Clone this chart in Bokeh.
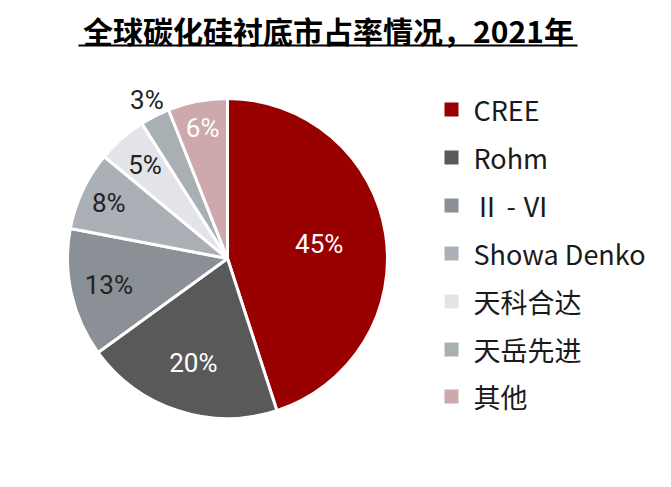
import math

from bokeh.core.properties import value
from bokeh.embed import file_html
from bokeh.models import ColumnDataSource, Range1d
from bokeh.plotting import figure
from bokeh.resources import INLINE

# Data
companies = ["CREE", "Rohm", "Ⅱ - Ⅵ", "Showa Denko", "天科合达", "天岳先进", "其他"]
shares = [45, 20, 13, 8, 5, 3, 6]
colors = ["#990000", "#595959", "#8a9096", "#aab0b5", "#e3e4e8", "#a9b0b3", "#cda9ab"]
label_colors = ["white", "white", "#222222", "#222222", "#222222", "#222222", "white"]
label_r = [0.58, 0.69, 0.76, 0.82, 0.78, 1.11, 0.83]  # label distance, fraction of radius

W, H = 655, 471
cx, cy, R = 227, H - 258, 160

# Wedge angles, clockwise from 12 o'clock
total = sum(shares)
starts, ends, lx, ly, texts = [], [], [], [], []
cum = 0
for s, r in zip(shares, label_r):
    a0 = math.pi / 2 - 2 * math.pi * cum / total
    a1 = math.pi / 2 - 2 * math.pi * (cum + s) / total
    mid = (a0 + a1) / 2
    starts.append(a0)
    ends.append(a1)
    lx.append(cx + R * r * math.cos(mid))
    ly.append(cy + R * r * math.sin(mid))
    texts.append(f"{s}%")
    cum += s

src = ColumnDataSource(dict(
    start=starts, end=ends, color=colors,
    lx=lx, ly=ly, text=texts, tcolor=label_colors,
))

p = figure(width=W, height=H, output_backend="svg", toolbar_location=None,
           x_range=Range1d(0, W), y_range=Range1d(0, H), min_border=0)
p.axis.visible = False
p.grid.grid_line_color = None
p.outline_line_color = None
p.background_fill_color = "white"

# Pie
p.wedge(x=cx, y=cy, radius=R, start_angle="start", end_angle="end",
        direction="clock", fill_color="color", line_color="white",
        line_width=3, source=src)

p.text(x="lx", y="ly", text="text", text_color="tcolor", source=src,
       text_font=value("Roboto"), text_font_size="26px",
       text_align="center", text_baseline="middle")

# Title with underline
p.text(x=[328], y=[H - 29], text=["全球碳化硅衬底市占率情况，2021年"],
       text_font=value("Noto Sans CJK SC"), text_font_size="30px",
       text_font_style="bold", text_color="black",
       text_align="center", text_baseline="middle")
p.segment(x0=[78], y0=[H - 45], x1=[577], y1=[H - 45], line_color="black", line_width=2)

# Legend
ley = [H - y for y in [109, 157, 205, 253, 301, 349, 396]]
p.rect(x=[451] * len(companies), y=ley, width=14, height=14,
       fill_color=colors, line_color=None)
p.text(x=[473] * len(companies), y=ley, text=companies,
       text_font=value("Noto Sans CJK SC"), text_font_size="27px",
       text_color="#1a1a1a", text_baseline="middle")

open("out.html", "w").write(file_html(p, INLINE))
